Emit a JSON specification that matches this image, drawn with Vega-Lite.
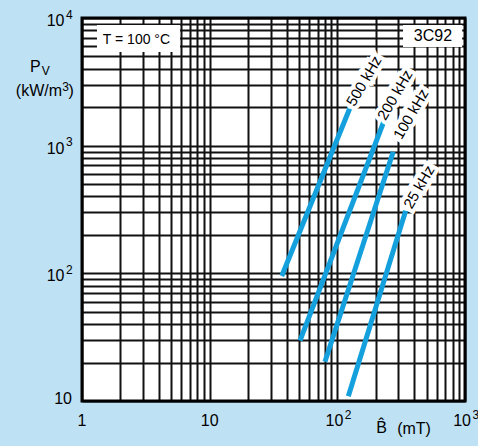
{
  "$schema": "https://vega.github.io/schema/vega-lite/v6.json",
  "width": 383,
  "height": 383,
  "autosize": {"type": "none"},
  "padding": {"left": 82, "top": 18, "right": 13, "bottom": 45},
  "background": "#bfe1f4",
  "config": {
    "view": {"fill": "white", "stroke": null},
    "font": "Liberation Sans",
    "axis": {"grid": true, "gridColor": "#111111", "gridWidth": 2, "gridOpacity": 1, "labels": false, "ticks": false, "domain": false},
    "text": {"font": "Liberation Sans", "color": "black"}
  },
  "datasets": {
    "curves": [
      {"f": "500 kHz", "B": 36.7, "P": 95.3},
      {"f": "500 kHz", "B": 127.3, "P": 2045},
      {"f": "200 kHz", "B": 51.0, "P": 29.7},
      {"f": "200 kHz", "B": 232, "P": 1560},
      {"f": "100 kHz", "B": 80.0, "P": 20.3},
      {"f": "100 kHz", "B": 274, "P": 897},
      {"f": "25 kHz", "B": 121.9, "P": 10.9},
      {"f": "25 kHz", "B": 343, "P": 309}
    ],
    "curveLabels": [
      {"f": "500 kHz", "B": 161.8, "P": 3210},
      {"f": "200 kHz", "B": 282.9, "P": 2495},
      {"f": "100 kHz", "B": 377.6, "P": 1770},
      {"f": "25 kHz", "B": 436, "P": 474}
    ],
    "xlab": [{"B": 1, "t": "1"}, {"B": 10, "t": "10"}],
    "xlabp": [{"B": 100, "t": "10", "s": "2"}, {"B": 1000, "t": "10", "s": "3"}],
    "ylab": [{"P": 10, "t": "10"}],
    "ylabp": [{"P": 100, "t": "10", "s": "2"}, {"P": 1000, "t": "10", "s": "3"}, {"P": 10000, "t": "10", "s": "4"}]
  },
  "layer": [
    {
      "data": {"name": "curves"},
      "mark": {"type": "line", "color": "#14a0dc", "strokeWidth": 5, "strokeCap": "butt"},
      "encoding": {
        "x": {"field": "B", "type": "quantitative", "title": null,
          "scale": {"type": "log", "domain": [1, 1000], "nice": false},
          "axis": {"values": [1,2,3,4,5,6,7,8,9,10,20,30,40,50,60,70,80,90,100,200,300,400,500,600,700,800,900,1000]}},
        "y": {"field": "P", "type": "quantitative", "title": null,
          "scale": {"type": "log", "domain": [10, 10000], "nice": false},
          "axis": {"values": [10,20,30,40,50,60,70,80,90,100,200,300,400,500,600,700,800,900,1000,2000,3000,4000,5000,6000,7000,8000,9000,10000]}},
        "detail": {"field": "f"}
      }
    },
    {
      "data": {"name": "curveLabels"},
      "mark": {"type": "text", "angle": -60, "fontSize": 15, "align": "center", "baseline": "middle", "stroke": "white", "strokeWidth": 8, "fill": "white", "strokeJoin": "miter"},
      "encoding": {
        "x": {"field": "B", "type": "quantitative", "title": null, "scale": {"type": "log", "domain": [1, 1000], "nice": false}},
        "y": {"field": "P", "type": "quantitative", "title": null, "scale": {"type": "log", "domain": [10, 10000], "nice": false}},
        "text": {"field": "f"}
      }
    },
    {
      "data": {"name": "curveLabels"},
      "mark": {"type": "text", "angle": -60, "fontSize": 15, "align": "center", "baseline": "middle", "color": "black"},
      "encoding": {
        "x": {"field": "B", "type": "quantitative", "title": null, "scale": {"type": "log", "domain": [1, 1000], "nice": false}},
        "y": {"field": "P", "type": "quantitative", "title": null, "scale": {"type": "log", "domain": [10, 10000], "nice": false}},
        "text": {"field": "f"}
      }
    },
    {
      "data": {"values": [{}]},
      "mark": {"type": "rect", "color": "white"},
      "encoding": {
        "x": {"datum": 1.31, "type": "quantitative", "title": null, "scale": {"type": "log", "domain": [1, 1000], "nice": false}}, "x2": {"datum": 5.86},
        "y": {"datum": 5420, "type": "quantitative", "title": null, "scale": {"type": "log", "domain": [10, 10000], "nice": false}}, "y2": {"datum": 8800}
      }
    },
    {
      "data": {"values": [{}]},
      "mark": {"type": "text", "text": "T = 100 °C", "fontSize": 14, "align": "center", "baseline": "middle"},
      "encoding": {
        "x": {"datum": 2.67, "type": "quantitative", "title": null, "scale": {"type": "log", "domain": [1, 1000], "nice": false}},
        "y": {"datum": 6720, "type": "quantitative", "title": null, "scale": {"type": "log", "domain": [10, 10000], "nice": false}}
      }
    },
    {
      "data": {"values": [{}]},
      "mark": {"type": "rect", "color": "white"},
      "encoding": {
        "x": {"datum": 327, "type": "quantitative", "title": null, "scale": {"type": "log", "domain": [1, 1000], "nice": false}}, "x2": {"datum": 950},
        "y": {"datum": 5930, "type": "quantitative", "title": null, "scale": {"type": "log", "domain": [10, 10000], "nice": false}}, "y2": {"datum": 8800}
      }
    },
    {
      "data": {"values": [{}]},
      "mark": {"type": "text", "text": "3C92", "fontSize": 16, "align": "center", "baseline": "middle"},
      "encoding": {
        "x": {"datum": 561, "type": "quantitative", "title": null, "scale": {"type": "log", "domain": [1, 1000], "nice": false}},
        "y": {"datum": 7278, "type": "quantitative", "title": null, "scale": {"type": "log", "domain": [10, 10000], "nice": false}}
      }
    },
    {
      "data": {"values": [{}]},
      "mark": {"type": "rect", "filled": false, "stroke": "black", "strokeWidth": 3},
      "encoding": {
        "x": {"datum": 1, "type": "quantitative", "title": null, "scale": {"type": "log", "domain": [1, 1000], "nice": false}}, "x2": {"datum": 1000},
        "y": {"datum": 10, "type": "quantitative", "title": null, "scale": {"type": "log", "domain": [10, 10000], "nice": false}}, "y2": {"datum": 10000}
      }
    },
    {
      "data": {"name": "xlab"},
      "mark": {"type": "text", "fontSize": 16, "align": "center", "baseline": "middle", "dy": 20},
      "encoding": {
        "x": {"field": "B", "type": "quantitative", "title": null, "scale": {"type": "log", "domain": [1, 1000], "nice": false}},
        "y": {"datum": 10, "type": "quantitative", "title": null, "scale": {"type": "log", "domain": [10, 10000], "nice": false}},
        "text": {"field": "t"}
      }
    },
    {
      "data": {"name": "xlabp"},
      "mark": {"type": "text", "fontSize": 16, "align": "right", "baseline": "middle", "dy": 20, "dx": 6},
      "encoding": {
        "x": {"field": "B", "type": "quantitative", "title": null, "scale": {"type": "log", "domain": [1, 1000], "nice": false}},
        "y": {"datum": 10, "type": "quantitative", "title": null, "scale": {"type": "log", "domain": [10, 10000], "nice": false}},
        "text": {"field": "t"}
      }
    },
    {
      "data": {"name": "xlabp"},
      "mark": {"type": "text", "fontSize": 12, "align": "left", "baseline": "middle", "dy": 14, "dx": 7.5},
      "encoding": {
        "x": {"field": "B", "type": "quantitative", "title": null, "scale": {"type": "log", "domain": [1, 1000], "nice": false}},
        "y": {"datum": 10, "type": "quantitative", "title": null, "scale": {"type": "log", "domain": [10, 10000], "nice": false}},
        "text": {"field": "s"}
      }
    },
    {
      "data": {"name": "ylab"},
      "mark": {"type": "text", "fontSize": 16, "align": "right", "baseline": "middle", "dx": -10, "dy": -2},
      "encoding": {
        "x": {"datum": 1, "type": "quantitative", "title": null, "scale": {"type": "log", "domain": [1, 1000], "nice": false}},
        "y": {"field": "P", "type": "quantitative", "title": null, "scale": {"type": "log", "domain": [10, 10000], "nice": false}},
        "text": {"field": "t"}
      }
    },
    {
      "data": {"name": "ylabp"},
      "mark": {"type": "text", "fontSize": 16, "align": "right", "baseline": "middle", "dx": -17.5, "dy": 3},
      "encoding": {
        "x": {"datum": 1, "type": "quantitative", "title": null, "scale": {"type": "log", "domain": [1, 1000], "nice": false}},
        "y": {"field": "P", "type": "quantitative", "title": null, "scale": {"type": "log", "domain": [10, 10000], "nice": false}},
        "text": {"field": "t"}
      }
    },
    {
      "data": {"name": "ylabp"},
      "mark": {"type": "text", "fontSize": 12, "align": "left", "baseline": "middle", "dx": -16, "dy": -3.5},
      "encoding": {
        "x": {"datum": 1, "type": "quantitative", "title": null, "scale": {"type": "log", "domain": [1, 1000], "nice": false}},
        "y": {"field": "P", "type": "quantitative", "title": null, "scale": {"type": "log", "domain": [10, 10000], "nice": false}},
        "text": {"field": "s"}
      }
    },
    {
      "data": {"values": [{}]},
      "mark": {"type": "text", "text": "P", "fontSize": 16, "align": "center", "baseline": "middle", "dx": -46.7, "dy": 48.7},
      "encoding": {
        "x": {"datum": 1, "type": "quantitative", "title": null, "scale": {"type": "log", "domain": [1, 1000], "nice": false}},
        "y": {"datum": 10000, "type": "quantitative", "title": null, "scale": {"type": "log", "domain": [10, 10000], "nice": false}}
      }
    },
    {
      "data": {"values": [{}]},
      "mark": {"type": "text", "text": "V", "fontSize": 12, "align": "center", "baseline": "middle", "dx": -36.2, "dy": 53},
      "encoding": {
        "x": {"datum": 1, "type": "quantitative", "title": null, "scale": {"type": "log", "domain": [1, 1000], "nice": false}},
        "y": {"datum": 10000, "type": "quantitative", "title": null, "scale": {"type": "log", "domain": [10, 10000], "nice": false}}
      }
    },
    {
      "data": {"values": [{}]},
      "mark": {"type": "text", "text": "(kW/m", "fontSize": 16, "align": "right", "baseline": "middle", "dx": -20, "dy": 73},
      "encoding": {
        "x": {"datum": 1, "type": "quantitative", "title": null, "scale": {"type": "log", "domain": [1, 1000], "nice": false}},
        "y": {"datum": 10000, "type": "quantitative", "title": null, "scale": {"type": "log", "domain": [10, 10000], "nice": false}}
      }
    },
    {
      "data": {"values": [{}]},
      "mark": {"type": "text", "text": "3", "fontSize": 12, "align": "center", "baseline": "middle", "dx": -16.3, "dy": 69},
      "encoding": {
        "x": {"datum": 1, "type": "quantitative", "title": null, "scale": {"type": "log", "domain": [1, 1000], "nice": false}},
        "y": {"datum": 10000, "type": "quantitative", "title": null, "scale": {"type": "log", "domain": [10, 10000], "nice": false}}
      }
    },
    {
      "data": {"values": [{}]},
      "mark": {"type": "text", "text": ")", "fontSize": 16, "align": "center", "baseline": "middle", "dx": -10.8, "dy": 73},
      "encoding": {
        "x": {"datum": 1, "type": "quantitative", "title": null, "scale": {"type": "log", "domain": [1, 1000], "nice": false}},
        "y": {"datum": 10000, "type": "quantitative", "title": null, "scale": {"type": "log", "domain": [10, 10000], "nice": false}}
      }
    },
    {
      "data": {"values": [{}]},
      "mark": {"type": "text", "text": "B̂", "fontSize": 16, "align": "center", "baseline": "middle", "dy": 26.5},
      "encoding": {
        "x": {"datum": 222, "type": "quantitative", "title": null, "scale": {"type": "log", "domain": [1, 1000], "nice": false}},
        "y": {"datum": 10, "type": "quantitative", "title": null, "scale": {"type": "log", "domain": [10, 10000], "nice": false}}
      }
    },
    {
      "data": {"values": [{}]},
      "mark": {"type": "text", "text": "(mT)", "fontSize": 16, "align": "center", "baseline": "middle", "dy": 28},
      "encoding": {
        "x": {"datum": 398.6, "type": "quantitative", "title": null, "scale": {"type": "log", "domain": [1, 1000], "nice": false}},
        "y": {"datum": 10, "type": "quantitative", "title": null, "scale": {"type": "log", "domain": [10, 10000], "nice": false}}
      }
    }
  ]
}
